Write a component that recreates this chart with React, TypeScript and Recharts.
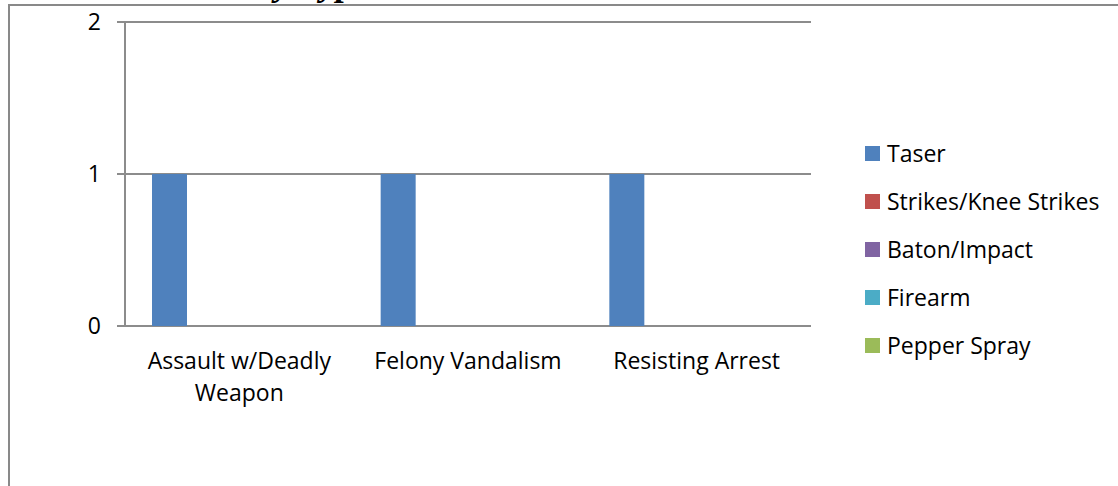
import React from "react";
import { BarChart, Bar, XAxis, YAxis, CartesianGrid, Legend } from "recharts";

const categories = ["Assault w/Deadly Weapon", "Felony Vandalism", "Resisting Arrest"];
const taser = [1, 1, 1];
const strikes = [0, 0, 0];
const baton = [0, 0, 0];
const firearm = [0, 0, 0];
const pepper = [0, 0, 0];
const yTicks = [0, 1, 2];
const edgeTicks = [0, 1, 2, 3];

const seriesNames = ["Taser", "Strikes/Knee Strikes", "Baton/Impact", "Firearm", "Pepper Spray"];
const seriesColors = ["#4f81bd", "#c0504d", "#8064a2", "#4bacc6", "#9bbb59"];
const seriesValues = [taser, strikes, baton, firearm, pepper];

const data = categories.map((c, i) => {
  const row: Record<string, any> = { name: c };
  seriesNames.forEach((s, j) => {
    row[s] = seriesValues[j][i];
  });
  return row;
});

const FONT = "'Open Sans', sans-serif";
const FS = 23;
const AXIS = "#8c8c8c";

let ctx: CanvasRenderingContext2D | null = null;
function measure(t: string): number {
  if (!ctx && typeof document !== "undefined") {
    ctx = document.createElement("canvas").getContext("2d");
  }
  if (!ctx) return t.length * FS * 0.5;
  ctx.font = `${FS}px ${FONT}`;
  return ctx.measureText(t).width;
}

function wrap(label: string, maxW: number): string[] {
  const words = label.split(" ");
  const lines: string[] = [];
  let cur = "";
  for (const w of words) {
    const next = cur ? cur + " " + w : w;
    if (cur && measure(next) > maxW) {
      lines.push(cur);
      cur = w;
    } else {
      cur = next;
    }
  }
  if (cur) lines.push(cur);
  return lines;
}

const CatTick = (props: any) => {
  const { x, y, payload } = props;
  const lines = wrap(String(payload.value), 215);
  return (
    <text x={x} y={y + 43} textAnchor="middle" fontFamily={FONT} fontSize={FS} fill="#000">
      {lines.map((l, i) => (
        <tspan key={i} x={x} dy={i === 0 ? 0 : 32}>
          {l}
        </tspan>
      ))}
    </text>
  );
};

const LegendContent = () => {
  return (
    <div style={{ fontFamily: FONT, fontSize: FS, color: "#000", lineHeight: 1 }}>
      {seriesNames.map((s, j) => (
        <div key={s} style={{ display: "flex", alignItems: "center", height: 48, whiteSpace: "nowrap" }}>
          <span style={{ display: "inline-block", width: 15, height: 15, background: seriesColors[j], marginRight: 7, flex: "none" }} />
          <span>{s}</span>
        </div>
      ))}
    </div>
  );
};

export default function App() {
  return (
    <div style={{ position: "fixed", left: 0, top: 0, width: 1118, height: 486, overflow: "hidden", background: "#fff" }}>
      <div
        style={{
          position: "absolute",
          left: 8,
          top: 4,
          width: 1300,
          height: 700,
          border: "2px solid #898989",
          boxSizing: "border-box",
        }}
      />
      <svg style={{ position: "absolute", left: 0, top: 0 }} width={1118} height={20}>
        <text x={160} y={-5} fontFamily="'Liberation Serif', serif" fontWeight="bold" fontStyle="italic" fontSize={36} fill="#000">
          Force by Type
        </text>
      </svg>
      <div style={{ position: "absolute", left: 0, top: 0 }}>
        <BarChart
          width={1118}
          height={486}
          data={data}
          margin={{ top: 22, right: 306, left: 0, bottom: 60 }}
          barCategoryGap={27}
          barGap={0}
        >
          <CartesianGrid vertical={false} stroke={AXIS} strokeWidth={2} yAxisId={0} xAxisId={1} />
          <XAxis
            xAxisId={0}
            type="number"
            domain={[0, 3]}
            allowDataOverflow
            ticks={edgeTicks}
            height={0}
            tickSize={8}
            tick={() => <g />}
            axisLine={{ stroke: AXIS, strokeWidth: 2 }}
            tickLine={{ stroke: AXIS, strokeWidth: 2 }}
          />
          <XAxis
            xAxisId={1}
            dataKey="name"
            type="category"
            height={100}
            tickSize={0}
            tickMargin={0}
            axisLine={false}
            tickLine={false}
            tick={<CatTick />}
            interval={0}
          />
          <YAxis
            yAxisId={0}
            width={125}
            domain={[0, 2]}
            ticks={yTicks}
            tickSize={8}
            tickMargin={16}
            axisLine={{ stroke: AXIS, strokeWidth: 2 }}
            tickLine={{ stroke: AXIS, strokeWidth: 2 }}
            tick={{ fill: "#000", fontFamily: FONT, fontSize: FS }}
          />
          <Legend
            layout="vertical"
            align="right"
            verticalAlign="top"
            content={<LegendContent />}
            wrapperStyle={{ position: "fixed", left: 865, top: 129, width: 1, height: 1 }}
          />
          {seriesNames.map((s, j) => (
            <Bar
              key={s}
              dataKey={s}
              name={s}
              xAxisId={1}
              yAxisId={0}
              fill={seriesColors[j]}
              isAnimationActive={false}
            />
          ))}
        </BarChart>
      </div>
    </div>
  );
}
